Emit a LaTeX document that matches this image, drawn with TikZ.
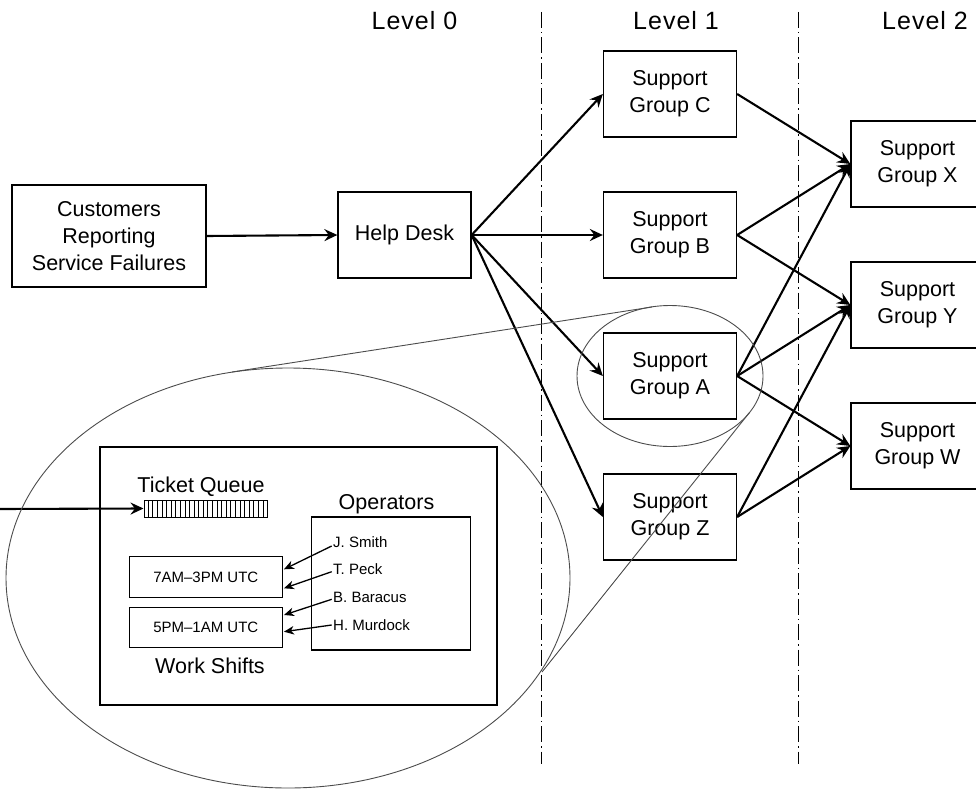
\documentclass[tikz,border=0pt]{standalone}
\usepackage{fontspec}
\setmainfont{Liberation Sans}
\usetikzlibrary{arrows.meta,calc}

\begin{document}
\begin{tikzpicture}[x=1pt,y=-1pt,
  big/.style={font=\fontsize{21.5}{26.7}\selectfont},
  small/.style={font=\fontsize{15}{18}\selectfont},
  level/.style={font=\fontsize{25}{30}\selectfont\addfontfeature{LetterSpace=4}, anchor=base},
  box/.style={draw, line width=1.3pt, fill=white, align=center, inner sep=0pt, big},
  grp/.style={box, minimum width=133pt, minimum height=86pt},
  link/.style={line width=2.1pt, -{Stealth[length=13pt,width=12pt,inset=4.5pt]}},
  namelink/.style={line width=1.3pt, -{Stealth[length=10pt,width=8.5pt,inset=3pt]}},
  lens/.style={draw=black!70, line width=0.9pt},
  divider/.style={line width=1pt, dash pattern=on 16pt off 4pt on 1.5pt off 4pt},
]
\useasboundingbox (0,0) rectangle (976,789);
\clip (0,0) rectangle (976,789);

% level headings and column dividers
\node[level] (lv0) at (414.5,30) {Level 0};
\node[level] (lv1) at (676,30) {Level 1};
\node[level] (lv2) at (925,30) {Level 2};
\coordinate (d1top) at (541,12);  \coordinate (d1bot) at (541,764);
\coordinate (d2top) at (798,12);  \coordinate (d2bot) at (798,764);
\draw[divider] (d1top) -- (d1bot);
\draw[divider] (d2top) -- (d2bot);

% escalation chain
\node[box, minimum width=194pt, minimum height=102pt] (cust) at (109,236)
  {Customers\\Reporting\\Service Failures};
\node[grp] (help) at (404.5,235) {Help Desk};

\node[grp] (C) at (670,94)  {Support\\Group C};
\node[grp] (B) at (670,235) {Support\\Group B};
\node[grp] (A) at (670,376) {Support\\Group A};
\node[grp] (Z) at (670,517) {Support\\Group Z};

\node[grp] (X) at (917.5,164) {Support\\Group X};
\node[grp] (Y) at (917.5,305) {Support\\Group Y};
\node[grp] (W) at (917.5,446) {Support\\Group W};

\draw[link] (cust.east) -- (help.west);
\foreach \g in {C,B,A,Z} \draw[link] (help.east) -- (\g.west);
\draw[link] (C.east) -- (X.west);
\draw[link] (B.east) -- (X.west);
\draw[link] (B.east) -- (Y.west);
\draw[link] (A.east) -- (X.west);
\draw[link] (A.east) -- (Y.west);
\draw[link] (A.east) -- (W.west);
\draw[link] (Z.east) -- (Y.west);
\draw[link] (Z.east) -- (W.west);

% detail of a support group
\node[draw, line width=1.3pt, minimum width=397pt, minimum height=258pt, inner sep=0pt]
  (detail) at (298.5,576) {};
\node[big, anchor=base] (tqlabel) at (201,492) {Ticket Queue};
\node[draw, line width=1pt, minimum width=123pt, minimum height=17pt, inner sep=0pt]
  (queue) at (205.5,508.5) {};
\foreach \i in {1,...,26}
  \draw[line width=0.6pt] ($(queue.south west)!\i/27!(queue.south east)$)
    -- ($(queue.north west)!\i/27!(queue.north east)$);
\coordinate (qin) at (0,509);
\draw[link] (qin) -- (queue.west);

\node[big, anchor=base] (oplabel) at (386.5,509) {Operators};
\node[draw, line width=1.3pt, minimum width=159pt, minimum height=133pt, inner sep=0pt]
  (ops) at (391.2,583.5) {};
\node[small, anchor=base west, inner sep=0pt] (n1) at (333,547) {J. Smith};
\node[small, anchor=base west, inner sep=0pt] (n2) at (333,574) {T. Peck};
\node[small, anchor=base west, inner sep=0pt] (n3) at (333,602) {B. Baracus};
\node[small, anchor=base west, inner sep=0pt] (n4) at (333,630) {H. Murdock};

\node[draw, line width=1.3pt, minimum width=153pt, minimum height=40.6pt, inner sep=0pt, small]
  (s1) at (205.8,577) {7AM–3PM UTC};
\node[draw, line width=1.3pt, minimum width=153pt, minimum height=40pt, inner sep=0pt, small]
  (s2) at (205.8,627.3) {5PM–1AM UTC};
\node[big, anchor=base] (wslabel) at (210,673) {Work Shifts};

\draw[namelink] ($(n1.base west)+(-1.3,-1)$) -- ($(s1.east)+(1,-7.7)$);
\draw[namelink] ($(n2.base west)+(-1.3,-2.3)$) -- ($(s1.east)+(1,11.3)$);
\draw[namelink] ($(n3.base west)+(-1.3,-2.7)$) -- ($(s2.east)+(1,-12.3)$);
\draw[namelink] ($(n4.base west)+(-1.3,-5)$) -- ($(s2.east)+(1,4.4)$);

% magnifying lens around Support Group A
\draw[lens] (670,376) ellipse [x radius=93pt, y radius=70.5pt];
\draw[lens] (288,578) ellipse [x radius=282pt, y radius=210pt];
\coordinate (lensTopBig) at (232,372);
\coordinate (lensTopSmall) at (652,307);
\coordinate (lensLowBig) at (542,672);
\coordinate (lensLowSmall) at (749.5,412.5);
\draw[lens] (lensTopBig) -- (lensTopSmall);
\draw[lens] (lensLowBig) -- (lensLowSmall);
\end{tikzpicture}
\end{document}
